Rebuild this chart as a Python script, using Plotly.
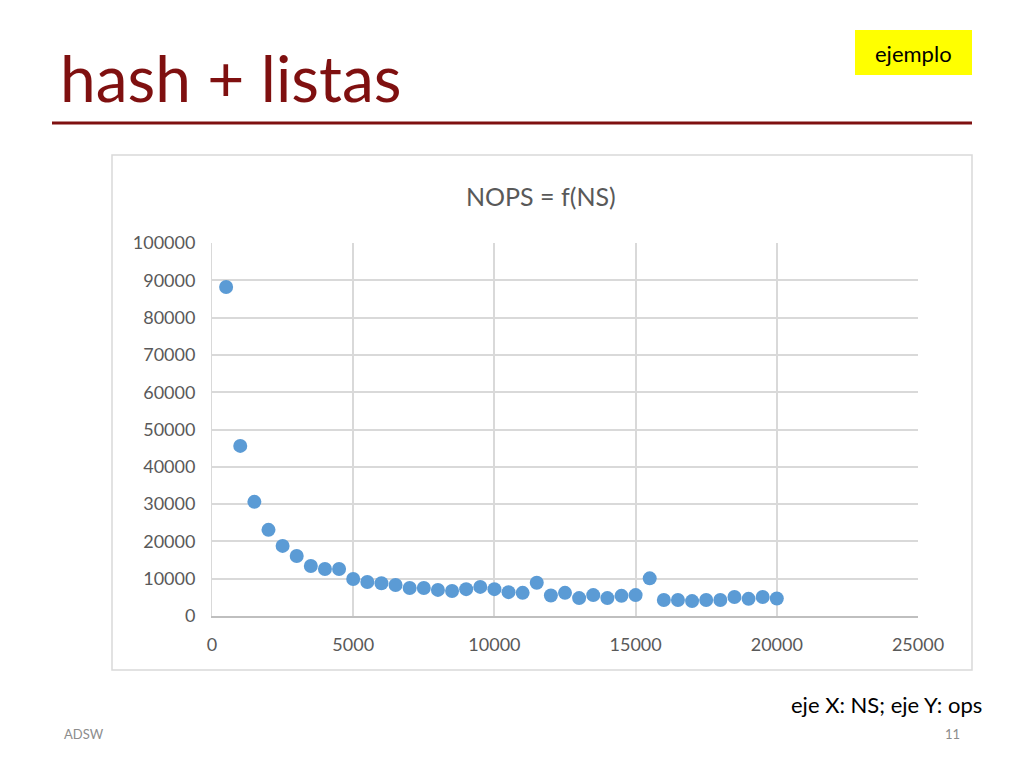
import plotly.graph_objects as go

# NS values (x) and NOPS values (y)
ns = [500, 1000, 1500, 2000, 2500, 3000, 3500, 4000, 4500, 5000,
      5500, 6000, 6500, 7000, 7500, 8000, 8500, 9000, 9500, 10000,
      10500, 11000, 11500, 12000, 12500, 13000, 13500, 14000, 14500, 15000,
      15500, 16000, 16500, 17000, 17500, 18000, 18500, 19000, 19500, 20000]
nops = [88200, 45600, 30600, 23100, 18800, 16100, 13400, 12600, 12600, 9900,
        9100, 8800, 8300, 7500, 7500, 7000, 6700, 7200, 7800, 7200,
        6400, 6200, 8900, 5500, 6200, 4800, 5600, 4800, 5400, 5600,
        10100, 4300, 4300, 4000, 4300, 4300, 5100, 4600, 5100, 4700]

x_ticks = [0, 5000, 10000, 15000, 20000, 25000]
y_ticks = [0, 10000, 20000, 30000, 40000, 50000, 60000, 70000, 80000, 90000, 100000]

W, H = 1024, 768
OFF = 8  # page body margin
L, R, T, B = 212 - OFF, 918 - OFF, 243 - OFF, 616 - OFF


def px(x):
    return (x - OFF - L) / (R - L)


def py(y):
    return (B - (y - OFF)) / (B - T)


fig = go.Figure()
fig.add_trace(
    go.Scatter(
        x=ns,
        y=nops,
        mode="markers",
        marker=dict(color="#5B9BD5", size=14),
        showlegend=False,
    )
)

grey = "#595959"
fig.update_layout(
    width=W,
    height=H,
    margin=dict(l=L, r=W - R, t=T, b=H - B),
    paper_bgcolor="white",
    plot_bgcolor="white",
    font=dict(family="Lato", color=grey, size=16),
    xaxis=dict(
        range=[0, 25000],
        tickvals=x_ticks,
        tickformat="d",
        showgrid=True,
        gridcolor="#D9D9D9",
        gridwidth=1.5,
        zeroline=False,
        showline=True,
        linecolor="#BFBFBF",
        linewidth=1.5,
        ticks="",
        ticklabelstandoff=12,
        tickfont=dict(size=18),
    ),
    yaxis=dict(
        range=[0, 100000],
        tickvals=y_ticks,
        tickformat="d",
        showgrid=True,
        gridcolor="#D9D9D9",
        gridwidth=1.5,
        zeroline=False,
        showline=True,
        linecolor="#D9D9D9",
        ticks="",
        ticklabelstandoff=12,
        tickfont=dict(size=18),
    ),
    shapes=[
        # chart frame
        dict(type="rect", xref="paper", yref="paper",
             x0=px(112), x1=px(972), y0=py(670), y1=py(155),
             line=dict(color="#D9D9D9", width=1.5), layer="below"),
        # red rule under title
        dict(type="line", xref="paper", yref="paper",
             x0=px(52), x1=px(972), y0=py(123), y1=py(123),
             line=dict(color="#7F1010", width=3)),
        # yellow box
        dict(type="rect", xref="paper", yref="paper",
             x0=px(855), x1=px(972), y0=py(75), y1=py(30),
             fillcolor="#FFFF00", line=dict(width=0)),
    ],
    annotations=[
        dict(text="hash + listas", xref="paper", yref="paper",
             x=px(58), y=py(78), xanchor="left", yanchor="middle",
             showarrow=False, font=dict(size=64, color="#7F1010")),
        dict(text="ejemplo", xref="paper", yref="paper",
             x=px(913), y=py(53), xanchor="center", yanchor="middle",
             showarrow=False, font=dict(size=22, color="black")),
        dict(text="NOPS = f(NS)", xref="paper", yref="paper",
             x=px(541), y=py(196), xanchor="center", yanchor="middle",
             showarrow=False, font=dict(size=25, color=grey)),
        dict(text="eje X: NS; eje Y: ops", xref="paper", yref="paper",
             x=px(984), y=py(704), xanchor="right", yanchor="middle",
             showarrow=False, font=dict(size=22, color="black")),
        dict(text="ADSW", xref="paper", yref="paper",
             x=px(62), y=py(734), xanchor="left", yanchor="middle",
             showarrow=False, font=dict(size=13, color="#8C8C8C")),
        dict(text="11", xref="paper", yref="paper",
             x=px(962), y=py(734), xanchor="right", yanchor="middle",
             showarrow=False, font=dict(size=13, color="#8C8C8C")),
    ],
)

fig.write_html("out.html")
